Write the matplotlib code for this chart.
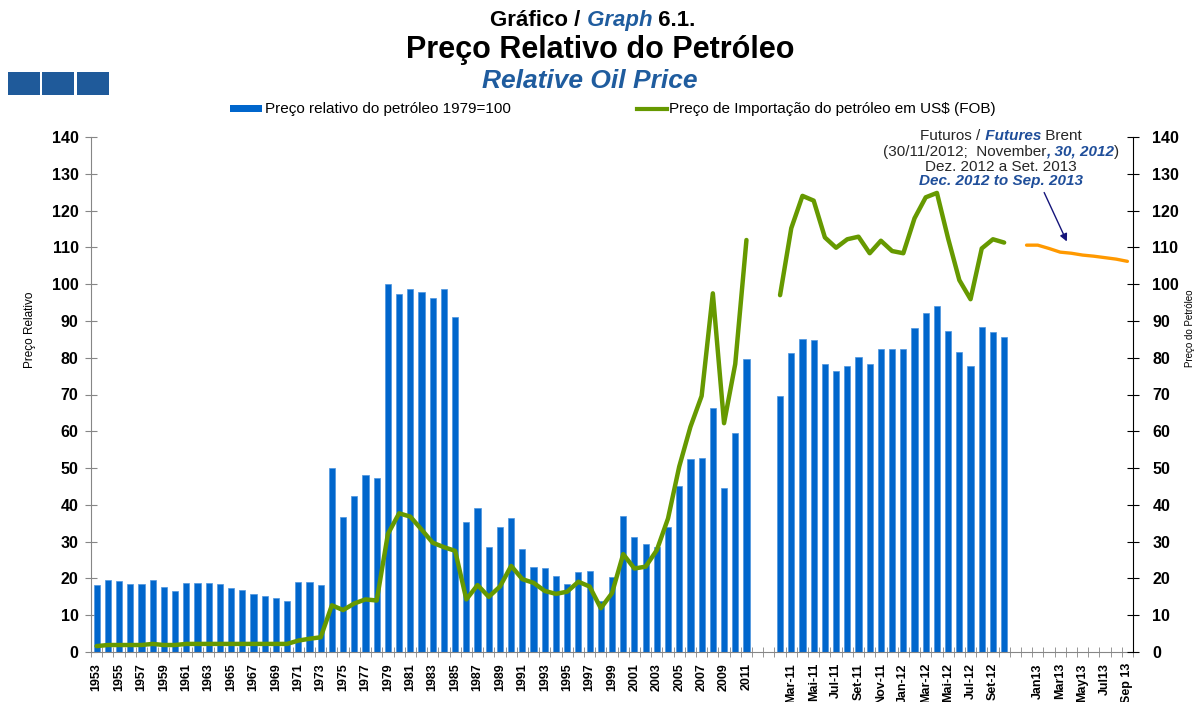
import matplotlib
matplotlib.use("Agg")
import matplotlib.pyplot as plt
from matplotlib.patches import Rectangle, FancyArrowPatch
from matplotlib.lines import Line2D
from matplotlib.transforms import IdentityTransform
import numpy as np

plt.rcParams['font.family'] = ['Liberation Sans', 'DejaVu Sans']

# ---- data -------------------------------------------------------------
years = list(range(1953, 2012))
relative_price = [18.2, 19.6, 19.3, 18.6, 18.6, 19.6, 17.8, 16.7, 18.8, 18.8,
                  18.8, 18.6, 17.4, 16.9, 15.8, 15.2, 14.7, 14.0, 19.0, 19.0,
                  18.2, 50.1, 36.6, 42.3, 48.2, 47.4, 100.0, 97.2, 98.6, 97.8,
                  96.1, 98.8, 91.1, 35.4, 39.1, 28.6, 34.1, 36.3, 27.9, 23.0,
                  22.7, 20.7, 18.5, 21.7, 22.0, 14.0, 20.5, 37.0, 31.2, 29.4,
                  28.6, 34.1, 45.1, 52.6, 52.8, 66.4, 44.5, 59.6, 79.6]
import_price = [1.6, 1.9, 1.9, 1.9, 1.9, 2.2, 1.9, 1.9, 2.2, 2.2,
                2.2, 2.2, 2.2, 2.2, 2.2, 2.2, 2.2, 2.2, 3.1, 3.6,
                4.0, 12.7, 11.4, 13.2, 14.3, 14.0, 32.1, 37.7, 36.8, 33.3,
                29.7, 28.5, 27.5, 14.3, 18.2, 15.0, 17.8, 23.4, 19.8, 18.8,
                16.6, 15.8, 16.4, 19.1, 17.8, 11.9, 16.0, 26.6, 22.7, 23.2,
                27.7, 36.3, 50.4, 61.2, 69.6, 97.5, 62.2, 78.3, 112.0]

months = ['Fev-11', 'Mar-11', 'Abr-11', 'Mai-11', 'Jun-11', 'Jul-11', 'Ago-11',
          'Set-11', 'Out-11', 'Nov-11', 'Dez-11', 'Jan-12', 'Fev-12', 'Mar-12',
          'Abr-12', 'Mai-12', 'Jun-12', 'Jul-12', 'Ago-12', 'Set-12', 'Out-12']
relative_price_m = [69.6, 81.2, 85.0, 84.7, 78.2, 76.4, 77.7, 80.1, 78.2, 82.3,
                    82.5, 82.5, 88.0, 92.2, 94.1, 87.3, 81.5, 77.7, 88.4, 87.1,
                    85.5]
import_price_m = [97.0, 115.2, 124.0, 122.7, 112.7, 109.9, 112.2, 112.9, 108.4,
                  111.8, 109.0, 108.4, 117.9, 123.6, 124.8, 112.4, 101.1, 95.9,
                  109.7, 112.2, 111.3]

futures_months = ['Dec12', 'Jan13', 'Feb13', 'Mar13', 'Apr13', 'May13',
                  'Jun13', 'Jul13', 'Aug13', 'Sep 13']
brent_futures = [110.6, 110.6, 109.7, 108.7, 108.4, 107.9, 107.6, 107.2,
                 106.8, 106.2]

# ---- category axis ------------------------------------------------------
labels = [str(y) for y in years] + ['', ''] + months + [''] + futures_months
pos = np.arange(len(labels))
m0 = len(years) + 2
f0 = m0 + len(months) + 1
pos_y = pos[:len(years)]
pos_m = pos[m0:m0 + len(months)]
pos_f = pos[f0:f0 + len(futures_months)]

BLUE = '#0066CC'
GREEN = '#669900'
ORANGE = '#FF9900'
TITLE_BLUE = '#1F5C9E'
GREY = '#868686'

W, H = 1199, 702
fig = plt.figure(figsize=(W / 100, H / 100), dpi=100)
ax = fig.add_axes([91 / W, 50 / H, 1042 / W, 515 / H])
ax2 = ax.twinx()

ax.bar(pos_y, relative_price, width=0.55, color=BLUE, edgecolor='#4C94DE',
       linewidth=0.5, zorder=2)
ax.bar(pos_m, relative_price_m, width=0.55, color=BLUE, edgecolor='#4C94DE',
       linewidth=0.5, zorder=2)

ax2.plot(pos_y, import_price, color=GREEN, lw=3.2, solid_joinstyle='round',
         solid_capstyle='round')
ax2.plot(pos_m, import_price_m, color=GREEN, lw=3.2, solid_joinstyle='round',
         solid_capstyle='round')
ax2.plot(pos_f, brent_futures, color=ORANGE, lw=2.4, solid_capstyle='round')

for a in (ax, ax2):
    a.set_xlim(-0.5, len(labels) - 0.5)
    a.set_ylim(0, 140)
    a.set_yticks(np.arange(0, 141, 10))
    a.spines['top'].set_visible(False)

ax.spines['left'].set_color(GREY)
ax.spines['bottom'].set_color(GREY)
ax.spines['right'].set_visible(False)
ax2.spines['left'].set_visible(False)
ax2.spines['bottom'].set_visible(False)
ax2.spines['right'].set_color('black')

ax.tick_params(axis='y', direction='inout', length=8, color=GREY,
               labelsize=11.5, pad=5)
ax2.tick_params(axis='y', direction='inout', length=8, color='black',
                labelsize=11.5, pad=10)
for lab in ax.get_yticklabels() + ax2.get_yticklabels():
    lab.set_fontweight('bold')

ax.set_xticks(pos[::2])
ax.set_xticklabels(labels[::2], rotation=90, fontsize=9, fontweight='bold')
ax.tick_params(axis='x', which='major', length=0, pad=8)
ax.set_xticks(np.arange(-0.5, len(labels), 1.0), minor=True)
ax.tick_params(axis='x', which='minor', direction='inout', length=7,
               color=GREY)

fig.text(30 / W, 1 - 330 / H, 'Preço Relativo', rotation=90, fontsize=8.5,
         ha='center', va='center')
fig.text(1190 / W, 1 - 328 / H, 'Preço do Petróleo', rotation=90, fontsize=7,
         ha='center', va='center')

# ---- titles and notes with mixed styles --------------------------------
renderer = fig.canvas.get_renderer()


def text_width(s, props):
    t = fig.text(0, 0, '|' + s + '|', transform=IdentityTransform(), **props)
    w = t.get_window_extent(renderer).width
    t.remove()
    t = fig.text(0, 0, '||', transform=IdentityTransform(), **props)
    w -= t.get_window_extent(renderer).width
    t.remove()
    return w


def rich_line(cx, baseline, pieces):
    widths = [text_width(s, p) for s, p in pieces]
    x = cx - sum(widths) / 2
    for (s, p), w in zip(pieces, widths):
        fig.text(x, H - baseline, s, transform=IdentityTransform(), ha='left',
                 va='baseline', **p)
        x += w


bold = dict(fontweight='bold', color='black')
bold_blue_it = dict(fontweight='bold', style='italic', color=TITLE_BLUE)

rich_line(593, 26, [('Gráfico /', dict(bold, fontsize=16)),
                    (' Graph', dict(bold_blue_it, fontsize=16)),
                    (' 6.1.', dict(bold, fontsize=16))])
rich_line(600, 58, [('Preço Relativo do Petróleo', dict(bold, fontsize=22))])
rich_line(590, 88, [('Relative Oil Price', dict(bold_blue_it, fontsize=19))])

# header blocks
for i in range(3):
    fig.add_artist(Rectangle((8 + i * 34.3, H - 95), 32, 23,
                             transform=IdentityTransform(),
                             color='#1F5A9A', lw=0))

# legend
fig.add_artist(Rectangle((230, H - 112), 32, 7, transform=IdentityTransform(),
                         color=BLUE, lw=0))
fig.text(265, H - 108.5, 'Preço relativo do petróleo 1979=100',
         transform=IdentityTransform(), fontsize=11, va='center')
fig.add_artist(Line2D([637, 667], [H - 108.5, H - 108.5],
                      transform=IdentityTransform(), color=GREEN, lw=3))
fig.text(669, H - 108.5, 'Preço de Importação do petróleo em US$ (FOB)',
         transform=IdentityTransform(), fontsize=11, va='center')

# note on Brent futures
reg = dict(color='#262626', fontsize=11)
note_blue = dict(color='#1F4E9A', fontsize=11, fontweight='bold',
                 style='italic')
rich_line(1001, 140, [('Futuros /', reg), (' Futures', note_blue),
                      (' Brent', reg)])
rich_line(1001, 156, [('(30/11/2012;  November', reg), (', 30, 2012', note_blue),
                      (')', reg)])
rich_line(1001, 171, [('Dez. 2012 a Set. 2013', reg)])
rich_line(1001, 185, [('Dec. 2012 to Sep. 2013', note_blue)])

fig.add_artist(FancyArrowPatch((1043, H - 190), (1068, H - 244),
                               transform=IdentityTransform(),
                               arrowstyle='-|>', mutation_scale=11,
                               color='#14147A', lw=1))

fig.savefig('out.png', dpi=100)
